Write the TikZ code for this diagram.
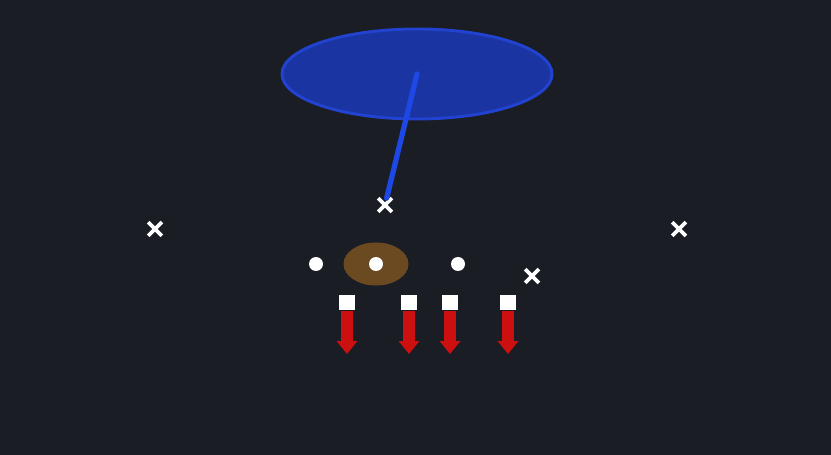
\documentclass[tikz,border=0pt]{standalone}
\usepackage{tikz}
\usetikzlibrary{positioning, shapes.geometric, shapes.misc, arrows.meta}

\definecolor{bgdark}{HTML}{1A1D24}
\definecolor{zoneblue}{HTML}{1A35A2}
\definecolor{zoneedge}{HTML}{2242D0}
\definecolor{lineblue}{HTML}{1E48E6}
\definecolor{ballbrown}{HTML}{6B4A22}
\definecolor{runred}{HTML}{CC1010}

\tikzset{
  defender/.style={cross out, draw=white, line width=3.2pt, minimum size=0.3cm, inner sep=0pt},
  back/.style={circle, fill=white, minimum size=0.42cm, inner sep=0pt},
  lineman/.style={rectangle, fill=white, minimum width=0.48cm, minimum height=0.45cm, inner sep=0pt},
  block/.style={draw=runred, line width=10pt, -{Triangle[width=17pt,length=11pt]}}
}

\begin{document}
\begin{tikzpicture}[x=0.03cm, y=-0.03cm]
            \fill[bgdark] (0,0) rectangle (831,455);
            \useasboundingbox (0,0) rectangle (831,455);

            %Nodes
            \node[ellipse, fill=zoneblue, draw=zoneedge, line width=2.5pt,
                  minimum width=8.1cm, minimum height=2.7cm] at (417,74) (zone) {};
            \node[ellipse, fill=ballbrown, minimum width=1.95cm, minimum height=1.29cm] at (376,264) (ball) {};
            \node[defender] at (385,205) (lb)  {};
            \node[defender] at (155,229) (cbl) {};
            \node[defender] at (679,229) (cbr) {};
            \node[defender] at (532,276) (de)  {};
            \node[back] at (316,264) (hb)  {};
            \node[back] at (376,264) (qb)  {};
            \node[back] at (458,264) (fb)  {};
            \node[lineman] at (347,303) (lt) {};
            \node[lineman] at (409,303) (lg) {};
            \node[lineman] at (450,303) (rg) {};
            \node[lineman] at (508,303) (rt) {};
            \coordinate (ltend) at (347,354);
            \coordinate (lgend) at (409,354);
            \coordinate (rgend) at (450,354);
            \coordinate (rtend) at (508,354);

            %Lines
            \draw[lineblue, line width=4.5pt, line cap=round] (zone.center) -- (lb);
            \draw[block] (lt) -- (ltend);
            \draw[block] (lg) -- (lgend);
            \draw[block] (rg) -- (rgend);
            \draw[block] (rt) -- (rtend);
\end{tikzpicture}
\end{document}
